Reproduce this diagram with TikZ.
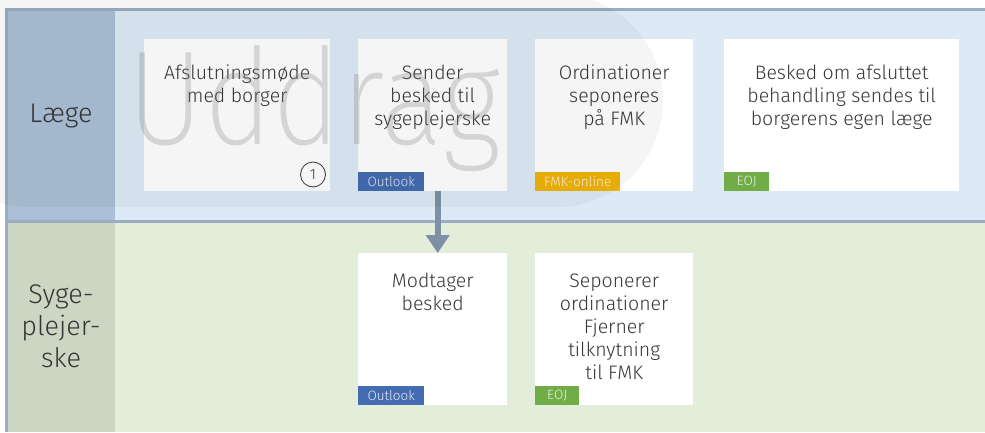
\documentclass[tikz,border=0pt]{standalone}
\usepackage{fontspec}
\setmainfont{Fira Sans Light}
\newfontfamily\wmfont{Fira Sans ExtraLight}
\usetikzlibrary{arrows.meta}
\definecolor{TextGray}{HTML}{363636}
\definecolor{LineGray}{HTML}{9CADC1}
\definecolor{ArrowGray}{HTML}{8090A4}
\definecolor{TopHead}{HTML}{ABC0D6}
\definecolor{TopLane}{HTML}{DDEAF6}
\definecolor{BotHead}{HTML}{CCD6C2}
\definecolor{BotLane}{HTML}{E2EEDA}
\definecolor{OutlookBlue}{HTML}{446CB3}
\definecolor{FmkYellow}{HTML}{F0B40A}
\definecolor{EojGreen}{HTML}{70AD47}

\begin{document}
\begin{tikzpicture}[x=1pt, y=-1pt,
  card/.style={fill=white, minimum height=152, inner sep=0, anchor=north west},
  cardtext/.style={anchor=north, inner sep=0, align=center, text=TextGray, font=\fontsize{19.5}{23}\selectfont},
  tag/.style={fill=#1, text=white, text opacity=.85, anchor=south west, minimum height=19, inner sep=0, font=\fontsize{13.5}{15}\selectfont},
  lanetext/.style={align=center, text=TextGray, font=\fontsize{27}{32}\selectfont},
  flow/.style={draw=ArrowGray, line width=6, -{Triangle[width=23pt,length=18pt]}}]
	\useasboundingbox (0,0) rectangle (985,432);
	\fill[TopLane] (7,10) rectangle (985,221);
	\fill[TopHead] (7,10) rectangle (115,221);
	\fill[BotLane] (7,221) rectangle (985,432);
	\fill[BotHead] (7,221) rectangle (115,432);
	\draw[LineGray, line width=3] (5,9) -- (985,9);
	\draw[LineGray, line width=3] (6,8) -- (6,432);
	\draw[LineGray, line width=3] (5,221.5) -- (985,221.5);
	\node[lanetext] (laege) at (61,116) {Læge};
	\node[lanetext] (sygepl) at (61,326) {Syge-\\plejer-\\ske};
	\node[card, minimum width=186] (afslut) at (144,39) {};
	\node[card, minimum width=149] (sender) at (358,39) {};
	\node[card, minimum width=158] (ordin) at (535,39) {};
	\node[card, minimum width=235] (besked) at (724,39) {};
	\node[card, minimum width=149] (modtag) at (358,253) {};
	\node[card, minimum width=158] (sepon) at (535,253) {};
	\node[cardtext] (afslut-txt) at ([yshift=-26pt]afslut.north) {Afslutningsmøde\\med borger};
	\node[cardtext] (sender-txt) at ([yshift=-26pt]sender.north) {Sender\\besked til\\sygeplejerske};
	\node[cardtext] (ordin-txt) at ([yshift=-26pt]ordin.north) {Ordinationer\\seponeres\\på FMK};
	\node[cardtext] (besked-txt) at ([yshift=-26pt]besked.north) {Besked om afsluttet\\behandling sendes til\\borgerens egen læge};
	\node[cardtext] (modtag-txt) at ([yshift=-20pt]modtag.north) {Modtager\\besked};
	\node[cardtext] (sepon-txt) at ([yshift=-21pt]sepon.north) {Seponerer\\ordinationer\\Fjerner\\tilknytning\\til FMK};
	\node[tag=OutlookBlue, minimum width=66] (sender-tag) at (sender.south west) {Outlook};
	\node[tag=FmkYellow, minimum width=85] (ordin-tag) at (ordin.south west) {FMK-online};
	\node[tag=EojGreen, minimum width=45] (besked-tag) at (besked.south west) {EOJ};
	\node[tag=OutlookBlue, minimum width=66] (modtag-tag) at (modtag.south west) {Outlook};
	\node[tag=EojGreen, minimum width=44] (sepon-tag) at (sepon.south west) {EOJ};
	\node[circle, draw=TextGray, line width=0.8, minimum size=25, inner sep=0, text=TextGray, font=\fontsize{15}{15}\selectfont] (nr) at (313,174.5) {1};
	\draw[flow] ([xshift=5pt]sender.south) -- ([xshift=5pt]modtag.north);
	\fill[black, fill opacity=.04, rounded corners=106] (-76,-6) rectangle (663,207);
	\node[anchor=base, inner sep=0, text=gray, text opacity=.28, font=\wmfont\fontsize{134}{134}\selectfont] (wm) at (314.5,144) {\scalebox{0.88}[1]{Uddrag}};
\end{tikzpicture}
\end{document}
